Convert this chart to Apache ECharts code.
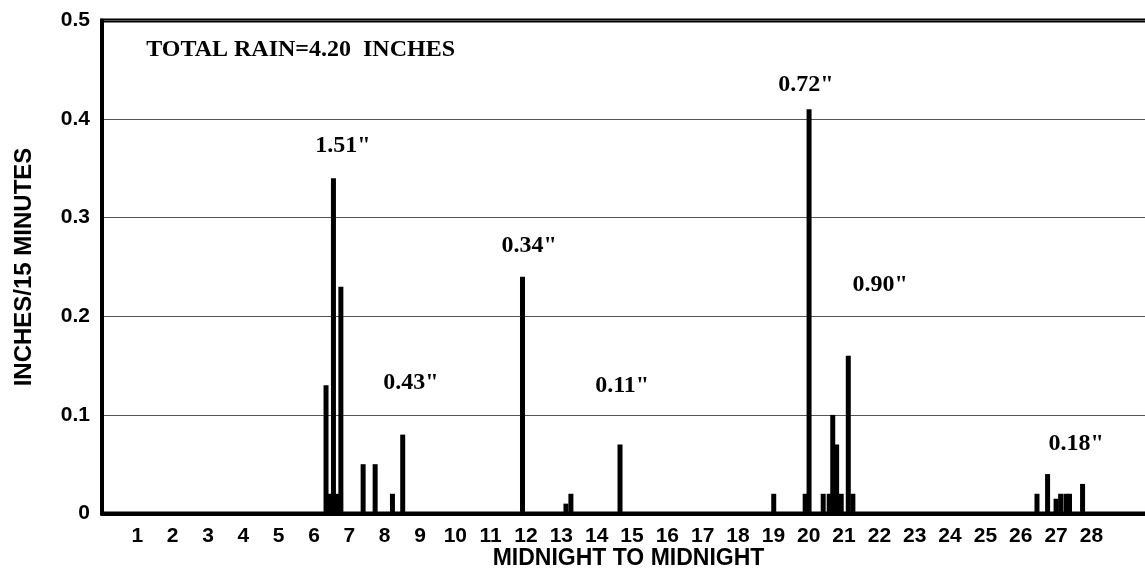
<!DOCTYPE html>
<html>
<head>
<meta charset="utf-8">
<script src="https://cdn.jsdelivr.net/npm/echarts@6/dist/echarts.min.js"></script>
<style>
  html, body { margin: 0; padding: 0; background: #fff; }
  #chart { width: 1145px; height: 572px; }
</style>
</head>
<body>
<div id="chart"></div>
<script>
// ---- data ----
const xTickLabels = ['1','2','3','4','5','6','7','8','9','10','11','12','13','14','15','16','17','18','19','20','21','22','23','24','25','26','27','28'];
const yTickLabels = ['0','0.1','0.2','0.3','0.4','0.5'];

// bar positions (on the 1..28 scale) and rainfall (inches / 15 minutes)
const barX = [6.34, 6.45, 6.55, 6.66, 6.76, 7.39, 7.73, 8.22, 8.51,
              11.90, 13.13, 13.27, 14.66,
              19.01, 19.90, 20.01, 20.41, 20.58, 20.68, 20.79, 20.92, 21.12, 21.25,
              26.46, 26.76, 27.00, 27.13, 27.28, 27.38, 27.75];
const barY = [0.13, 0.02, 0.34, 0.02, 0.23, 0.05, 0.05, 0.02, 0.08,
              0.24, 0.01, 0.02, 0.07,
              0.02, 0.02, 0.41, 0.02, 0.02, 0.10, 0.07, 0.02, 0.16, 0.02,
              0.02, 0.04, 0.015, 0.02, 0.02, 0.02, 0.03];

// storm totals annotations
const annoText = ['1.51"', '0.43"', '0.34"', '0.11"', '0.72"', '0.90"', '0.18"'];
const annoX = [6.82, 8.74, 12.09, 14.72, 19.92, 22.02, 27.57];
const annoY = [0.373, 0.133, 0.272, 0.130, 0.435, 0.232, 0.071];

const totalText = 'TOTAL RAIN=4.20  INCHES';
const totalX = 1.25;
const totalY = 0.470;

const xName = 'MIDNIGHT TO MIDNIGHT';
const yName = 'INCHES/15 MINUTES';

// ---- chart ----
const chart = echarts.init(document.getElementById('chart'), null, { renderer: 'canvas' });

const barData = barX.map((x, i) => [x, barY[i]]);
const annoData = annoText.map((t, i) => ({ value: [annoX[i], annoY[i]], name: t }));
annoData.push({ value: [totalX, totalY], name: totalText, label: { align: 'left' } });

const sans = '"Liberation Sans", Arial, sans-serif';
const serif = '"Liberation Serif", "Times New Roman", serif';

chart.setOption({
  animation: false,
  backgroundColor: '#fff',
  grid: {
    show: true,
    left: 102,
    right: -10,
    top: 20.5,
    bottom: 58.5,
    outerBoundsMode: 'none',
    containLabel: false,
    borderColor: '#000',
    borderWidth: 4,
    backgroundColor: 'transparent'
  },
  xAxis: {
    type: 'value',
    min: 0,
    max: 29.8,
    interval: 1,
    name: xName,
    nameLocation: 'middle',
    nameGap: 34,
    nameMoveOverlap: false,
    nameTextStyle: { fontFamily: sans, fontWeight: 'bold', fontSize: 23, color: '#000' },
    axisLine: { show: true, lineStyle: { color: '#000', width: 4 } },
    axisTick: { show: false },
    splitLine: { show: false },
    axisLabel: {
      margin: 12,
      fontFamily: sans, fontWeight: 'bold', fontSize: 21, color: '#000',
      showMinLabel: true, showMaxLabel: true,
      formatter: v => (Number.isInteger(v) && v >= 1 && v <= 28) ? xTickLabels[v - 1] : ''
    }
  },
  yAxis: {
    type: 'value',
    min: 0,
    max: 0.5,
    interval: 0.1,
    name: yName,
    nameLocation: 'middle',
    nameGap: 66,
    nameMoveOverlap: false,
    nameTextStyle: { fontFamily: sans, fontWeight: 'bold', fontSize: 24, color: '#000' },
    axisLine: { show: true, lineStyle: { color: '#000', width: 4 } },
    axisTick: { show: false },
    splitLine: { show: true, lineStyle: { color: '#555', width: 1 } },
    axisLabel: {
      margin: 12,
      fontFamily: sans, fontWeight: 'bold', fontSize: 21, color: '#000',
      formatter: v => yTickLabels[Math.round(v * 10)]
    }
  },
  series: [
    {
      type: 'bar',
      data: barData,
      barWidth: 5,
      itemStyle: { color: '#000' },
      silent: true
    },
    {
      type: 'scatter',
      data: annoData,
      symbolSize: 0,
      itemStyle: { color: '#000', opacity: 1 },
      silent: true,
      z: 5,
      label: {
        show: true,
        position: 'inside',
        formatter: '{b}',
        fontFamily: serif,
        fontWeight: 'bold',
        fontSize: 24,
        color: '#000',
        opacity: 1,
        textBorderWidth: 0
      }
    }
  ]
});
</script>
</body>
</html>
